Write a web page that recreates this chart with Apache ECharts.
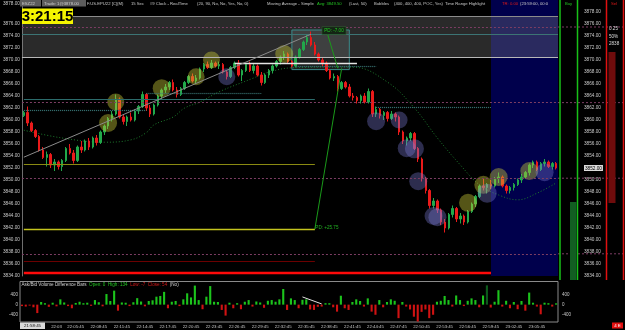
<!DOCTYPE html>
<html><head><meta charset="utf-8">
<script src="https://cdn.jsdelivr.net/npm/echarts@6/dist/echarts.min.js"></script>
<style>html,body{margin:0;padding:0;background:#000;}#c{width:625px;height:330px;}</style>
</head><body><div id="c"></div>
<script>
// ---------- DATA ----------
const times = [
'21:58:45','21:59:15','21:59:45','22:00:15','22:00:45','22:01:15','22:01:45','22:02:15','22:02:45','22:03:15',
'22:03:45','22:04:15','22:04:45','22:05:15','22:05:45','22:06:15','22:06:45','22:07:15','22:07:45','22:08:15',
'22:08:45','22:09:15','22:09:45','22:10:15','22:10:45','22:11:15','22:11:45','22:12:15','22:12:45','22:13:15',
'22:13:45','22:14:15','22:14:45','22:15:15','22:15:45','22:16:15','22:16:45','22:17:15','22:17:45','22:18:15',
'22:18:45','22:19:15','22:19:45','22:20:15','22:20:45','22:21:15','22:21:45','22:22:15','22:22:45','22:23:15',
'22:23:45','22:24:15','22:24:45','22:25:15','22:25:45','22:26:15','22:26:45','22:27:15','22:27:45','22:28:15',
'22:28:45','22:29:15','22:29:45','22:30:15','22:30:45','22:31:15','22:31:45','22:32:15','22:32:45','22:33:15',
'22:33:45','22:34:15','22:34:45','22:35:15','22:35:45','22:36:15','22:36:45','22:37:15','22:37:45','22:38:15',
'22:38:45','22:39:15','22:39:45','22:40:15','22:40:45','22:41:15','22:41:45','22:42:15','22:42:45','22:43:15',
'22:43:45','22:44:15','22:44:45','22:45:15','22:45:45','22:46:15','22:46:45','22:47:15','22:47:45','22:48:15',
'22:48:45','22:49:15','22:49:45','22:50:15','22:50:45','22:51:15','22:51:45','22:52:15','22:52:45','22:53:15',
'22:53:45','22:54:15','22:54:45','22:55:15','22:55:45','22:56:15','22:56:45','22:57:15','22:57:45','22:58:15',
'22:58:45','22:59:15','22:59:45','23:00:15','23:00:45','23:01:15','23:01:45','23:02:15','23:02:45','23:03:15',
'23:03:45','23:04:15','23:04:45','23:05:15','23:05:45','23:06:15','23:06:45','23:07:15','23:07:45','23:08:15'];

const opens = [
3860.75,3861.25,3859.5,3858.25,3857.25,3855,3853.75,3854.25,3852.5,3853,
3852.25,3853.25,3855.25,3854.5,3853.25,3855.5,3855,3856.5,3855.5,3857,
3856.25,3858,3859,3860.25,3861,3863.5,3860.5,3859.75,3860.5,3860,
3861.5,3862.25,3864.25,3862,3861,3862.5,3864,3865,3865.5,3866.25,
3865,3864.25,3865.25,3866.25,3867.25,3866.5,3867,3868.5,3869.25,3868.75,
3869.5,3869,3869.25,3868,3867.25,3868.75,3869.5,3867.5,3868.25,3869.25,
3868.25,3869,3867.5,3866.25,3867.5,3868.25,3869,3869.75,3870.5,3871,
3869.75,3869,3870.5,3871.75,3873,3873.75,3872.5,3871,3870,3869.5,
3868.25,3867,3867.25,3865.25,3866.25,3865.5,3864,3863.75,3863.25,3864,
3863,3864.75,3861,3861.75,3860.75,3861.25,3860.25,3861,3860.5,3858,
3856.5,3857,3857.75,3855.25,3853.5,3850.25,3848.25,3845.75,3846.5,3845,
3843,3842,3844.25,3845.25,3843.5,3844,3843,3844.75,3846,3847.25,
3849,3848.75,3849.25,3849,3850.25,3850.5,3849,3848.25,3848.75,3849.25,
3850,3850.5,3851.25,3852.5,3853,3851.75,3852.75,3853,3852.25,3852.75];

const closes = [
3861.25,3859.5,3858.25,3857.25,3855,3853.75,3854.25,3852.5,3853,3852.25,
3853.25,3855.25,3854.5,3853.25,3855.5,3855,3856.5,3855.5,3857,3856.25,
3858,3859,3860.25,3861,3863.5,3860.5,3859.75,3860.5,3860,3861.5,
3862.25,3864.25,3862,3861,3862.5,3864,3865,3865.5,3866.25,3865,
3864.25,3865.25,3866.25,3867.25,3866.5,3867,3868.5,3869.25,3868.75,3869.5,
3869,3869.25,3868,3867.25,3868.75,3869.5,3867.5,3868.25,3869.25,3868.25,
3869,3867.5,3866.25,3867.5,3868.25,3869,3869.75,3870.5,3871,3869.75,
3869,3870.5,3871.75,3873,3873.75,3872.5,3871,3870,3869.5,3868.25,
3867,3867.25,3865.25,3866.25,3865.5,3864,3863.75,3863.25,3864,3863,
3864.75,3861,3861.75,3860.75,3861.25,3860.25,3861,3860.5,3858,3856.5,
3857,3857.75,3855.25,3853.5,3850.25,3848.25,3845.75,3846.5,3845,3843,
3842,3844.25,3845.25,3843.5,3844,3843,3844.75,3846,3847.25,3849,
3848.75,3849.25,3849,3850.25,3850.5,3849,3848.25,3848.75,3849.25,3850,
3850.5,3851.25,3852.5,3853,3851.75,3852.75,3853,3852.25,3852.75,3852];

const lows = [
3860.5,3859,3858,3857,3854.75,3853.5,3852.25,3852,3851.5,3851.75,
3851.5,3853,3854.25,3852.75,3853,3854.5,3854.75,3855,3855.25,3855.75,
3856,3857.5,3858.5,3859.75,3860.75,3860.25,3859.25,3859,3859.75,3859.75,
3861,3862,3861.5,3860.5,3860.75,3862.25,3863.5,3864.5,3865,3864.75,
3863.75,3864,3865,3866,3866.25,3866,3866.75,3868,3868.5,3868.5,
3868.75,3868.5,3867.75,3866.75,3867,3868.5,3867.25,3866.5,3868,3868,
3867.75,3867.25,3865.75,3866,3867,3867.75,3868.75,3869.25,3870,3869.5,
3868.75,3868.75,3870.25,3871.5,3872.5,3872.25,3870.75,3869.75,3869,3868,
3866.75,3866.5,3864.75,3865,3865.25,3863.75,3863.25,3862.75,3862.75,3862.75,
3862.75,3860.5,3860.5,3860.25,3860,3859.75,3860,3859.75,3857.5,3856,
3855.75,3856.5,3855,3853,3849.75,3847.75,3845.25,3845.25,3844.5,3842.5,
3841.25,3841.75,3843.75,3843,3842.75,3842.5,3842.75,3844.5,3845.5,3847,
3848.25,3847.75,3848.5,3848.75,3849.5,3848.75,3847.75,3847.75,3848.25,3849,
3849.5,3850.25,3850.75,3852,3851.5,3851.5,3852.25,3852,3851.75,3851.75];

const highs = [
3861.5,3862.25,3859.75,3858.5,3857.5,3855.5,3854.75,3854.5,3853.5,3853.25,
3853.5,3855.5,3856,3855,3855.75,3856.5,3856.75,3857,3857.25,3857.5,
3858.25,3859.25,3860.5,3861.5,3864.25,3863.75,3861,3860.75,3861.25,3861.75,
3862.5,3864.75,3864.5,3862.5,3862.75,3864.25,3865.25,3866,3866.5,3866.75,
3865.5,3865.5,3866.5,3867.5,3867.75,3867.5,3868.75,3869.5,3869.75,3870,
3869.75,3869.75,3869.5,3868.25,3869,3869.75,3870,3868.5,3869.5,3869.75,
3869.5,3869.25,3868,3867.75,3868.5,3869.25,3870,3870.75,3871.5,3871.25,
3870,3870.75,3872,3873.25,3874.25,3874.75,3873,3871.25,3870.5,3869.75,
3868.5,3867.75,3867.5,3866.5,3866.5,3866,3864.5,3864,3864.25,3864.5,
3865.25,3865,3862.25,3862,3861.5,3861.5,3861.5,3861.25,3860.75,3858.25,
3857.25,3858,3858,3855.5,3853.75,3850.5,3848.5,3847,3846.75,3845.25,
3843.5,3844.5,3845.75,3845.5,3844.5,3844.25,3845,3846.25,3847.5,3849.25,
3850.25,3849.5,3850,3850.5,3851.25,3850.75,3849.25,3849,3849.5,3850.25,
3851,3851.5,3852.75,3853.25,3853.25,3853,3853.5,3853.25,3853,3853];

const volDiff = [
-60,-80,-40,-110,-350,110,60,-90,80,-70,
220,90,-60,-150,70,120,60,80,-50,190,
100,-70,440,150,580,-250,90,80,-60,100,
270,130,-70,150,180,330,360,530,-150,120,
150,-60,220,470,300,790,190,-190,330,770,
120,110,-220,-455,80,-150,60,-190,120,190,
-80,130,90,-130,160,190,120,220,650,-220,
260,190,-150,200,220,-200,-220,-90,-80,60,
60,-110,-290,370,-150,-220,110,220,150,-80,
260,-290,-420,190,-110,110,220,160,-560,110,
-80,-200,-500,-700,-300,-200,-560,-420,120,160,
360,190,-80,380,190,-60,160,260,190,-110,
380,800,-120,120,600,-80,160,-150,110,-190,
150,-250,500,80,-80,-400,80,60,-80,54];
const darkVolTimes = ['22:59:15'];

const tickTimes = ['22:03:15','22:05:45','22:08:45','22:11:45','22:14:45','22:17:45','22:20:45','22:23:45','22:26:45','22:29:45','22:32:45','22:35:45','22:38:45','22:41:45','22:44:45','22:47:45','22:50:45','22:53:45','22:56:45','22:59:45','23:02:45','23:05:45'];
const tickTexts = ['22:03','22:05:45','22:08:45','22:11:45','22:14:45','22:17:45','22:20:45','22:23:45','22:26:45','22:29:45','22:32:45','22:35:45','22:38:45','22:41:45','22:44:45','22:47:45','22:50:45','22:53:45','22:56:45','22:59:45','23:02:45','23:05:45'];

const maTimes = ['21:58:45','22:03:45','22:09:15','22:12:45','22:14:45','22:15:45','22:18:15','22:19:45','22:21:45','22:24:15','22:28:45','22:30:15','22:33:45','22:38:45','22:41:45','22:46:15','22:49:45','22:52:45','22:55:45','22:58:15','23:00:45','23:03:15','23:05:45','23:08:15'];
const maValues = [3858.3,3857.0,3856.3,3856.7,3857.9,3859.2,3860.5,3862.0,3863.0,3864.7,3867.0,3867.8,3868.7,3868.8,3868.8,3866.3,3862.0,3857.0,3852.5,3849.2,3847.5,3846.7,3847.8,3849.5];

const buyTimes = ['22:09:45','22:10:45','22:16:45','22:21:15','22:23:15','22:32:45','22:56:45','22:58:45','23:00:45','23:04:45'];
const buyPrices = [3859.5,3863.0,3865.3,3867.2,3870.0,3871.0,3846.2,3849.2,3850.5,3851.5];
const buySizes = [18,17,18,17,17,18,18,18,18,18];
const sellTimes = ['22:25:15','22:44:45','22:47:45','22:48:45','22:49:45','22:50:15','22:52:15','22:52:45','22:59:15','23:06:45'];
const sellPrices = [3867.2,3859.8,3860.0,3855.3,3855.2,3849.8,3844.0,3843.8,3847.8,3851.3];
const sellSizes = [17,18,17,18,19,18,18,18,19,18];

const pivotLevels = [3875.5, 3862.9, 3850.3, 3837.7];
const rangeBand = [3877.35, 3870.45];
const tealLevel = 3874.25;
const tealLine = ['21:58:45','22:36:45',3863.5];
const oliveLine = ['21:58:45','22:36:45',3852.67];
const yellowLine = ['21:58:45','22:36:45',3841.83];
const darkRedLine = ['21:58:45','22:36:45',3836.5];
const redLine = ['21:58:45','22:59:45',3834.6];
const whiteLine = ['22:26:15','22:42:15',3869.5];
const dottedLines = [['22:34:15','22:44:45',3869.0],['21:58:45','22:14:45',3861.7],['22:14:45','22:29:45',3864.5],['22:44:45','22:59:45',3862.2]];
const trendLine = [['21:58:45',3853.8],['22:36:15',3874.3]];
const pdUp = [['22:36:45',3841.83],['22:40:15',3868.6]];
const pdDown = [['22:38:15',3875.0],['22:39:45',3868.6]];
const pdLabels = ['PD: +25.75','PD: -7.00'];
const pdLabelAt = [['22:36:45',3842.1],['22:39:15',3874.9]];
const rangeBox = [['22:33:45',3875.0],['22:41:15',3868.4]];
const timeRangeStart = '22:59:45';
const volTrend = [['22:35:15',320],['22:37:45',30]];
const lastPrice = 3852;

// ---------- CHART ----------
const F = 'Liberation Sans';
const LBL = '#c8c8c8';
const TF = `4.2px ${F}`;
const chart = echarts.init(document.getElementById('c'), null, {renderer:'canvas', width:625, height:330});

function seg(a, b, color, width, type) {
  return [{coord: a, lineStyle: {color, width, type}}, {coord: b}];
}
function hseg(s, color, width, type) { return seg([s[0], s[2]], [s[1], s[2]], color, width, type); }

const candleData = times.map((t, i) => [opens[i], closes[i], lows[i], highs[i]]);

const option = {
  backgroundColor: '#000',
  animation: false,
  grid: [
    {left: 20, right: 67, top: 0, height: 276},
    {left: 20, right: 67, top: 281.5, height: 40.5, show: true, borderColor: '#8a8a8a', borderWidth: 1, backgroundColor: 'transparent'}
  ],
  xAxis: [
    {type: 'category', gridIndex: 0, data: times, boundaryGap: true, axisLine: {show: false}, axisTick: {show: false}, axisLabel: {show: false}, splitLine: {show: false}},
    {type: 'category', gridIndex: 1, data: times, boundaryGap: true, axisLine: {show: false}, axisTick: {show: false}, splitLine: {show: false},
     axisLabel: {interval: 0, color: LBL, fontSize: 4.3, fontFamily: F, margin: 2.5, hideOverlap: false,
       formatter: v => { const i = tickTimes.indexOf(v); return i < 0 ? '' : tickTexts[i]; }}}
  ],
  yAxis: [
    {type: 'value', gridIndex: 0, min: 3834, max: 3880, interval: 2, position: 'left',
     axisLine: {show: true, lineStyle: {color: '#6e6e6e'}}, axisTick: {show: false}, splitLine: {show: false},
     axisLabel: {color: LBL, fontSize: 4.7, fontFamily: F, margin: 2,
       formatter: v => v === 3880 ? '' : (v === 3878 ? '{up|' + v.toFixed(2) + '}' : v.toFixed(2)),
       rich: {up: {color: LBL, fontSize: 4.7, fontFamily: F, padding: [0, 0, 16, 0]}}}},
    {type: 'value', gridIndex: 0, min: 3834, max: 3880, interval: 2, position: 'right', offset: 22,
     axisLine: {show: false}, axisTick: {show: false}, splitLine: {show: false},
     axisLabel: {color: LBL, fontSize: 4.7, fontFamily: F, margin: 4,
       formatter: v => v === 3880 ? '' : (v === lastPrice ? '{hl|' + v.toFixed(2) + '}' : v.toFixed(2)),
       rich: {hl: {backgroundColor: '#dcdcdc', color: '#000', fontSize: 4.7, fontFamily: F, padding: [1, 1, 0, 1]}}}},
    {type: 'value', gridIndex: 1, min: -720, max: 960, interval: 80, position: 'left',
     axisLine: {show: false}, axisTick: {show: false}, splitLine: {show: false},
     axisLabel: {color: LBL, fontSize: 4.5, fontFamily: F, margin: 2, formatter: v => (v === 400 || v === 0 || v === -400) ? String(v) : ''}},
    {type: 'value', gridIndex: 1, min: -720, max: 960, interval: 80, position: 'right',
     axisLine: {show: false}, axisTick: {show: false}, splitLine: {show: false},
     axisLabel: {color: LBL, fontSize: 4.5, fontFamily: F, margin: 4, formatter: v => (v === 400 || v === 0 || v === -400) ? String(v) : ''}}
  ],
  series: [
    {
      name: 'MA', type: 'line', xAxisIndex: 0, yAxisIndex: 0, z: 2,
      data: maTimes.map((t, i) => [t, maValues[i]]),
      symbol: 'none', smooth: 0.4,
      lineStyle: {color: '#1d7a2c', width: 1, type: [1, 2]},
      silent: true,
      markArea: {
        silent: true,
        data: [
          [{xAxis: timeRangeStart, itemStyle: {color: '#00004c'}}, {}],
          [{yAxis: rangeBand[0], itemStyle: {color: 'rgba(140,140,140,0.30)'}}, {yAxis: rangeBand[1]}],
          [{coord: rangeBox[0], itemStyle: {color: 'rgba(170,180,180,0.16)', borderColor: '#3b8a8a', borderWidth: 1}}, {coord: rangeBox[1]}]
        ]
      }
    },
    {
      name: 'Price', type: 'candlestick', xAxisIndex: 0, yAxisIndex: 0, z: 3,
      data: candleData, barWidth: '52%',
      itemStyle: {color: '#22a84a', color0: '#ea1a1a', borderColor: '#22a84a', borderColor0: '#ea1a1a', borderWidth: 1},
      silent: true,
      markLine: {
        silent: true, symbol: ['none', 'none'], label: {show: false},
        data: [
          ...pivotLevels.map(v => ({yAxis: v, lineStyle: {color: '#7c3d63', width: 1, type: [2, 2]}})),
          {yAxis: rangeBand[0], lineStyle: {color: '#8c8c8c', width: 1, type: 'solid'}},
          {yAxis: rangeBand[1], lineStyle: {color: '#b8b8b8', width: 1, type: 'solid'}},
          {yAxis: tealLevel, lineStyle: {color: '#3c7474', width: 1, type: 'solid'}},
          hseg(tealLine, '#2c6c6c', 1, 'solid'),
          hseg(oliveLine, '#8a8a12', 1, 'solid'),
          hseg(yellowLine, '#c4c41e', 1.4, 'solid'),
          hseg(darkRedLine, '#6c0000', 1, 'solid'),
          hseg(redLine, '#ff0a0a', 2.4, 'solid'),
          hseg(whiteLine, '#e4e4e4', 1.4, 'solid'),
          ...dottedLines.map(s => hseg(s, '#3c7c7c', 1.2, [1, 1])),
          seg(trendLine[0], trendLine[1], '#8a8a8a', 1, 'solid'),
          seg(pdUp[0], pdUp[1], '#1a9a1a', 1, 'solid'),
          seg(pdDown[0], pdDown[1], '#1a9a1a', 1, 'solid')
        ]
      },
      markPoint: {
        silent: true, symbol: 'circle', symbolSize: 1, itemStyle: {color: 'rgba(0,0,0,0)'},
        data: [
          {coord: pdLabelAt[0], label: {show: true, formatter: pdLabels[0], position: 'right', distance: 0, color: '#22b422', fontSize: 4.6, fontFamily: F}},
          {coord: pdLabelAt[1], label: {show: true, formatter: pdLabels[1], position: 'inside', color: '#22c422', fontSize: 4.6, fontFamily: F, backgroundColor: '#142414', borderColor: '#2c5c2c', borderWidth: 0.6, padding: [1, 2]}}
        ]
      }
    },
    {
      name: 'Buy bubbles', type: 'scatter', xAxisIndex: 0, yAxisIndex: 0, z: 4, silent: true,
      data: buyTimes.map((t, i) => [t, buyPrices[i], buySizes[i]]),
      symbolSize: d => d[2],
      itemStyle: {color: 'rgba(205,205,55,0.52)'}
    },
    {
      name: 'Sell bubbles', type: 'scatter', xAxisIndex: 0, yAxisIndex: 0, z: 4, silent: true,
      data: sellTimes.map((t, i) => [t, sellPrices[i], sellSizes[i]]),
      symbolSize: d => d[2],
      itemStyle: {color: 'rgba(125,125,215,0.45)'}
    },
    {
      name: 'Ask/Bid Volume Difference', type: 'bar', xAxisIndex: 1, yAxisIndex: 2, z: 3, silent: true,
      data: volDiff, barWidth: '55%',
      itemStyle: {color: p => darkVolTimes.indexOf(times[p.dataIndex]) >= 0 ? '#0d5c1c' : (p.value >= 0 ? '#1cc41c' : '#d01212')},
      markLine: {
        silent: true, symbol: ['none', 'none'], label: {show: false},
        data: [seg(volTrend[0], volTrend[1], '#e0e0e0', 1, 'solid')]
      }
    }
  ],
  graphic: [
    // title bar
    {type: 'rect', z: 50, silent: true, shape: {x: 20, y: 0, width: 21, height: 6.5}, style: {fill: '#5c5c5c'}},
    {type: 'text', z: 51, silent: true, x: 22, y: 3.4, style: {text: 'ESZ22', font: TF, fill: '#d0d0d0', verticalAlign: 'middle'}},
    {type: 'rect', z: 50, silent: true, shape: {x: 42, y: 0, width: 44, height: 6.5}, style: {fill: '#5c5c5c'}},
    {type: 'text', z: 51, silent: true, x: 44, y: 3.4, style: {text: 'Trade: 1@3878.00', font: TF, fill: '#d0d0d0', verticalAlign: 'middle'}},
    ...[
      [87, 'F.US.EPU22 [C](M)', '#c8c8c8'], [131, '15 Sec', '#c8c8c8'], [150, '#9 Clock - RealTime', '#c8c8c8'],
      [197, '(20, 90, No, No, Yes, No, 0)', '#c8c8c8'], [267, 'Moving Average - Simple', '#c8c8c8'],
      [317, 'Avg: 3849.50', '#22c422'], [349, '(Last, 50)', '#c8c8c8'], [374, 'Bubbles', '#c8c8c8'],
      [394, '(400, 400, 400, POC, Yes)', '#c8c8c8'], [445, 'Time Range Highlight', '#c8c8c8'],
      [502, 'TR: 0.00', '#e01818'], [520, '(23:59:00, 00:0', '#c8c8c8'],
      [565, 'Buy', '#22c422'], [611, 'Sel', '#e01818']
    ].map(([x, t, c]) => ({type: 'text', z: 51, silent: true, x, y: 3.4, style: {text: t, font: TF, fill: c, verticalAlign: 'middle'}})),
    // clock
    {type: 'rect', z: 52, silent: true, shape: {x: 22, y: 8.5, width: 51, height: 15.5}, style: {fill: '#f4f400'}},
    {type: 'text', z: 53, silent: true, x: 47.5, y: 16.8, style: {text: '3:21:15', font: `bold 15px ${F}`, fill: '#000', align: 'center', verticalAlign: 'middle'}},
    // right columns
    {type: 'line', z: 50, silent: true, shape: {x1: 560, y1: 0, x2: 560, y2: 280}, style: {stroke: '#18c018', lineWidth: 1.5}},
    {type: 'line', z: 50, silent: true, shape: {x1: 577.5, y1: 0, x2: 577.5, y2: 280}, style: {stroke: '#18c018', lineWidth: 1.5}},
    {type: 'line', z: 50, silent: true, shape: {x1: 606.5, y1: 0, x2: 606.5, y2: 280}, style: {stroke: '#e01010', lineWidth: 1.5}},
    {type: 'line', z: 50, silent: true, shape: {x1: 623.5, y1: 0, x2: 623.5, y2: 280}, style: {stroke: '#e01010', lineWidth: 1.5}},
    {type: 'rect', z: 50, silent: true, shape: {x: 608.5, y: 52, width: 7, height: 151}, style: {fill: '#6e0c0c'}},
    {type: 'rect', z: 50, silent: true, shape: {x: 570, y: 202, width: 6.5, height: 78}, style: {fill: '#125e22'}},
    {type: 'text', z: 51, silent: true, x: 609, y: 29, style: {text: '0.25', font: `4.6px ${F}`, fill: '#dcdcdc', verticalAlign: 'middle'}},
    {type: 'text', z: 51, silent: true, x: 609, y: 37, style: {text: '50%', font: `4.6px ${F}`, fill: '#dcdcdc', verticalAlign: 'middle'}},
    {type: 'text', z: 51, silent: true, x: 609, y: 44, style: {text: '2838', font: `4.6px ${F}`, fill: '#dcdcdc', verticalAlign: 'middle'}},
    // volume pane title
    {type: 'text', z: 51, silent: true, x: 21.5, y: 284.5, style: {
      text: '{w|Ask/Bid Volume Difference Bars}  {g|Open: 0  High: 134}  {r|Low: -7  Close: 54}  {w|(No)}',
      font: `4.6px ${F}`, verticalAlign: 'middle',
      rich: {w: {fill: '#d0d0d0', font: `4.6px ${F}`}, g: {fill: '#22c422', font: `4.6px ${F}`}, r: {fill: '#d01818', font: `4.6px ${F}`}}}},
    // highlighted first time label
    {type: 'rect', z: 50, silent: true, shape: {x: 20, y: 322.5, width: 25, height: 6.5}, style: {fill: '#d8d8d8'}},
    {type: 'text', z: 51, silent: true, x: 32.5, y: 325.9, style: {text: '21:58:45', font: `4.4px ${F}`, fill: '#111', align: 'center', verticalAlign: 'middle'}},
    // bottom-right badge
    {type: 'rect', z: 50, silent: true, shape: {x: 612, y: 322.5, width: 11, height: 6}, style: {fill: '#e01010'}},
    {type: 'text', z: 51, silent: true, x: 617.5, y: 325.6, style: {text: '4 E', font: `4.4px ${F}`, fill: '#fff', align: 'center', verticalAlign: 'middle'}}
  ]
};
chart.setOption(option);

// extend the pivot levels across the right-hand ladder columns (positions taken from the price axis scale)
const extra = pivotLevels.map(v => {
  const y = chart.convertToPixel({yAxisIndex: 0}, v);
  return {type: 'line', z: 49, silent: true, shape: {x1: 558, y1: y, x2: 625, y2: y}, style: {stroke: '#7c3d63', lineWidth: 1, lineDash: [2, 2]}};
});
chart.setOption({graphic: option.graphic.concat(extra)});
</script>
</body></html>
